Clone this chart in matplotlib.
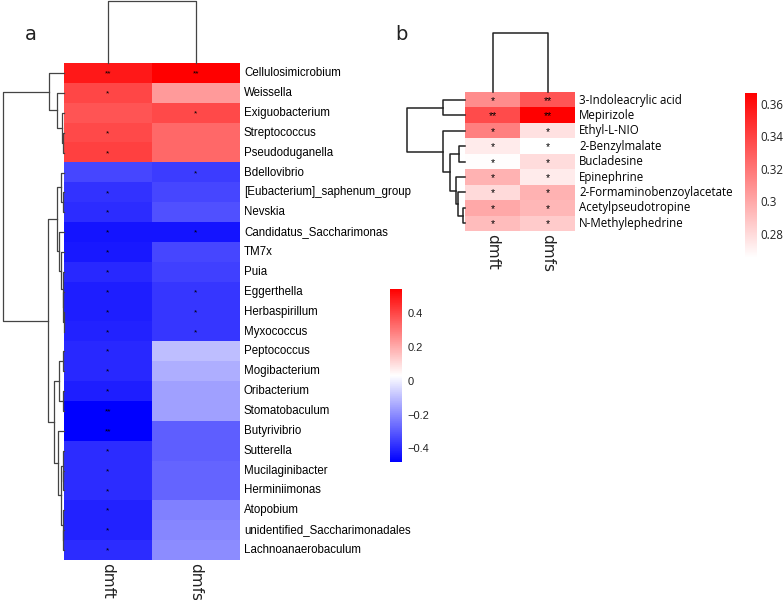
import matplotlib
matplotlib.use("Agg")
import matplotlib.pyplot as plt
import numpy as np
from matplotlib.colors import LinearSegmentedColormap

# ---- panel a data ----
taxa = ["Cellulosimicrobium", "Weissella", "Exiguobacterium", "Streptococcus",
        "Pseudoduganella", "Bdellovibrio", "[Eubacterium]_saphenum_group", "Nevskia",
        "Candidatus_Saccharimonas", "TM7x", "Puia", "Eggerthella", "Herbaspirillum",
        "Myxococcus", "Peptococcus", "Mogibacterium", "Oribacterium", "Stomatobaculum",
        "Butyrivibrio", "Sutterella", "Mucilaginibacter", "Herminiimonas", "Atopobium",
        "unidentified_Saccharimonadales", "Lachnoanaerobaculum"]
cols = ["dmft", "dmfs"]
a_dmft = [0.49, 0.40, 0.37, 0.39, 0.41, -0.34, -0.38, -0.39, -0.44, -0.43, -0.40, -0.42,
          -0.42, -0.41, -0.40, -0.40, -0.42, -0.48, -0.48, -0.39, -0.39, -0.39, -0.41,
          -0.41, -0.39]
a_dmfs = [0.54, 0.23, 0.39, 0.33, 0.33, -0.36, -0.34, -0.32, -0.44, -0.34, -0.35, -0.37,
          -0.37, -0.37, -0.10, -0.13, -0.16, -0.16, -0.29, -0.29, -0.28, -0.28, -0.225,
          -0.21, -0.20]
a_sig_dmft = ["**", "*", "", "*", "*", "", "*", "*", "*", "*", "*", "*", "*", "*", "*",
              "*", "*", "**", "**", "*", "*", "*", "*", "*", "*"]
a_sig_dmfs = ["**", "", "*", "", "", "*", "", "", "*", "", "", "*", "*", "*", "", "",
              "", "", "", "", "", "", "", "", ""]
# row clustering tree: (left, right, merge height)
a_rows_tree = (
    (0, (1, (2, (3, 4, 1.0), 2.3), 7.3), 15.0),
    (
        ((5, (6, 7, 0.8), 3.0), (8, (9, (10, (11, (12, 13, 0.3), 0.6), 1.0), 2.5), 4.7), 6.7),
        (((14, 15, 1.3), (16, 17, 1.3), 5.3),
         (18, ((19, (20, 21, 0.5), 1.0), (22, (23, 24, 0.5), 1.3), 3.0), 5.7), 10.0),
        15.7),
    61.0)
a_cols_tree = (0, 1, 62.3)

# ---- panel b data ----
metabs = ["3-Indoleacrylic acid", "Mepirizole", "Ethyl-L-NIO", "2-Benzylmalate",
          "Bucladesine", "Epinephrine", "2-Formaminobenzoylacetate",
          "Acetylpseudotropine", "N-Methylephedrine"]
b_dmft = [0.311, 0.337, 0.316, 0.273, 0.266, 0.296, 0.280, 0.300, 0.292]
b_dmfs = [0.333, 0.367, 0.277, 0.265, 0.279, 0.273, 0.296, 0.294, 0.286]
b_sig_dmft = ["*", "**", "*", "*", "*", "*", "*", "*", "*"]
b_sig_dmfs = ["**", "**", "*", "*", "*", "*", "*", "*", "*"]
b_rows_tree = ((0, 1, 21.7),
               (2, ((3, 4, 5.7), (5, (6, (7, 8, 1.7), 6.7), 9.3), 15.0), 22.3),
               58.3)
b_cols_tree = (0, 1, 59.0)

W, H = 784, 600
fig = plt.figure(figsize=(W / 100, H / 100), dpi=100)


def px_axes(x0, y0, x1, y1):
    ax = fig.add_axes([x0 / W, 1 - y1 / H, (x1 - x0) / W, (y1 - y0) / H])
    ax.set_axis_off()
    return ax


def draw_tree(ax, node, orient, **kw):
    if isinstance(node, int):
        return node, 0.0
    l, r, h = node
    pl, hl = draw_tree(ax, l, orient, **kw)
    pr, hr = draw_tree(ax, r, orient, **kw)
    ps = [pl, pl, pr, pr]
    hs = [hl, h, h, hr]
    if orient == "left":
        ax.plot(hs, ps, clip_on=False, **kw)
    else:
        ax.plot(ps, hs, clip_on=False, **kw)
    return (pl + pr) / 2, h


def heat_panel(x0, x1, y0, y1, data, sig, cmap, vmin, vmax, star_fs, labels,
               label_font, label_fs, label_x, rows_tree, cols_tree, rd_x0, cd_y0,
               tree_kw):
    n = data.shape[0]
    ax = px_axes(x0, y0, x1, y1)
    im = ax.imshow(data, cmap=cmap, vmin=vmin, vmax=vmax, aspect="auto",
                   interpolation="nearest")
    for i in range(n):
        for j in range(2):
            if sig[j][i]:
                ax.text(j, i, sig[j][i], ha="center", va="center_baseline",
                        fontsize=star_fs, color="black", family="Liberation Sans")
    ax.set_xlim(-0.5, 1.5)
    ax.set_ylim(n - 0.5, -0.5)
    rh = (y1 - y0) / n
    for i, lab in enumerate(labels):
        fig.text(label_x / W, 1 - (y0 + (i + 0.5) * rh) / H, lab, ha="left",
                 va="center", fontsize=label_fs, family=label_font)
    cw = (x1 - x0) / 2
    for j, c in enumerate(cols):
        fig.text((x0 + (j + 0.5) * cw) / W, 1 - (y1 + 3) / H, c, rotation=270,
                 ha="center", va="top", fontsize=11, family="DejaVu Sans",
                 color="#222222")
    # row dendrogram
    rax = px_axes(rd_x0, y0, x0, y1)
    draw_tree(rax, rows_tree, "left", **tree_kw)
    rax.set_xlim(x0 - rd_x0, 0)
    rax.set_ylim(n - 0.5, -0.5)
    # column dendrogram
    cax = px_axes(x0, cd_y0, x1, y0)
    draw_tree(cax, cols_tree, "top", **tree_kw)
    cax.set_xlim(-0.5, 1.5)
    cax.set_ylim(0, y0 - cd_y0)
    return im


def add_cbar(im, x0, y0, x1, y1, ticks, ticklabels, font, fs, pad):
    cax = fig.add_axes([x0 / W, 1 - y1 / H, (x1 - x0) / W, (y1 - y0) / H])
    cb = fig.colorbar(im, cax=cax)
    cb.outline.set_visible(False)
    cb.set_ticks(ticks)
    cb.set_ticklabels(ticklabels)
    cax.tick_params(length=0, pad=pad, labelsize=fs)
    for t in cax.get_yticklabels():
        t.set_family(font)
        t.set_color("#222222")


cmap_a = LinearSegmentedColormap.from_list("bwr_a", ["#0000ff", "#ffffff", "#ff0000"])
cmap_b = LinearSegmentedColormap.from_list("wr_b", ["#ffffff", "#ff0000"])

data_a = np.column_stack([a_dmft, a_dmfs])
im_a = heat_panel(64, 240, 63.3, 560, data_a, [a_sig_dmft, a_sig_dmfs], cmap_a,
                  -0.48, 0.54, 6, taxa, "Liberation Sans", 8.3, 244,
                  a_rows_tree, a_cols_tree, 0, 0,
                  dict(color="#444444", lw=0.9))
add_cbar(im_a, 390, 289, 402, 462, [0.4, 0.2, 0, -0.2, -0.4],
         ["0.4", "0.2", "0", "\u22120.2", "\u22120.4"], "Liberation Sans", 8, 4)

data_b = np.column_stack([b_dmft, b_dmfs])
im_b = heat_panel(465, 575, 92.3, 231, data_b, [b_sig_dmft, b_sig_dmfs], cmap_b,
                  0.265, 0.367, 7.5, metabs, "Open Sans", 8.3, 579,
                  b_rows_tree, b_cols_tree, 400, 0,
                  dict(color="#222222", lw=1.1))
add_cbar(im_b, 745, 92.7, 756.7, 258, [0.36, 0.34, 0.32, 0.30, 0.28],
         ["0.36", "0.34", "0.32", "0.3", "0.28"], "Open Sans", 8.3, 2.5)

fig.text(30.7 / W, 1 - 35 / H, "a", ha="center", va="center", fontsize=14,
         family="DejaVu Sans", color="#222222")
fig.text(401.7 / W, 1 - 35 / H, "b", ha="center", va="center", fontsize=14,
         family="DejaVu Sans", color="#222222")

fig.savefig("out.png", dpi=100)
